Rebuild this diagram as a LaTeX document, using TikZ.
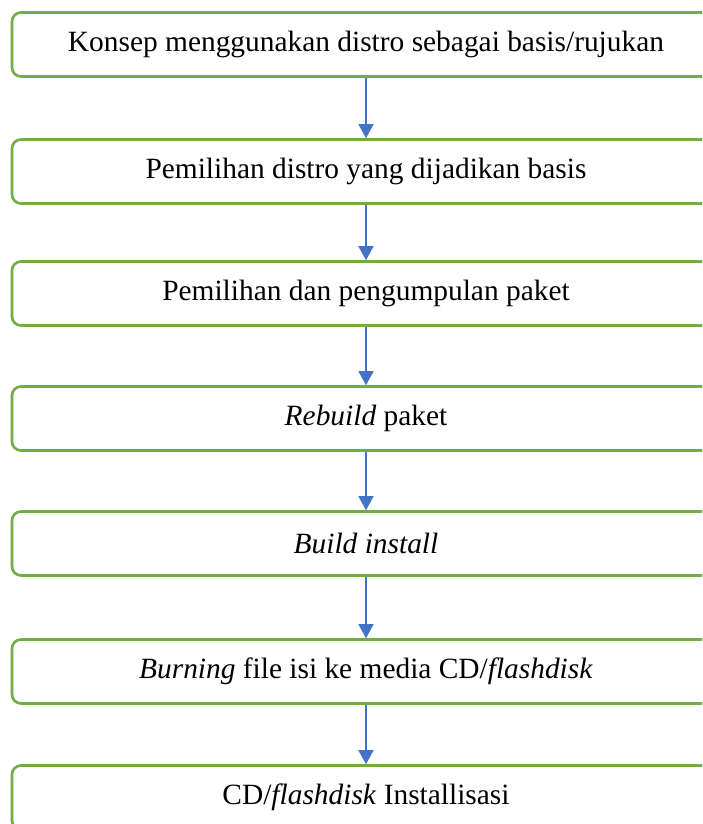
\documentclass[tikz,border=0pt]{standalone}
\usepackage{fontspec}
\setmainfont{Liberation Serif}
\usetikzlibrary{arrows.meta}
\definecolor{boxgreen}{RGB}{112,173,71}
\definecolor{arrowblue}{RGB}{68,114,196}
\tikzset{
  stepbox/.style={draw=boxgreen,line width=2.6pt,rounded corners=9pt,fill=white,
    minimum width=708pt,minimum height=64pt,inner sep=0pt,
    font=\fontsize{29.4}{34}\selectfont},
  flowarrow/.style={draw=arrowblue,line width=1.4pt,-{Triangle[width=15pt,length=14pt]}}
}
\begin{document}
\begin{tikzpicture}[x=1pt,y=1pt]
\useasboundingbox (0,0) rectangle (702,-824);
\clip (0,0) rectangle (702,-824);
\node[stepbox] (konsep) at (366,-44.5) {Konsep menggunakan distro sebagai basis/rujukan};
\node[stepbox] (pilihdistro) at (366,-171.5) {Pemilihan distro yang dijadikan basis};
\node[stepbox] (paket) at (366,-293.5) {Pemilihan dan pengumpulan paket};
\node[stepbox] (rebuild) at (366,-418.5) {\textit{Rebuild} paket};
\node[stepbox] (build) at (366,-543.5) {\textit{Build install}};
\node[stepbox] (burning) at (366,-671.5) {\textit{Burning} file isi ke media CD/\textit{flashdisk}};
\node[stepbox] (install) at (366,-797.5) {CD/\textit{flashdisk} Installisasi};
\draw[flowarrow] (konsep) -- (pilihdistro);
\draw[flowarrow] (pilihdistro) -- (paket);
\draw[flowarrow] (paket) -- (rebuild);
\draw[flowarrow] (rebuild) -- (build);
\draw[flowarrow] (build) -- (burning);
\draw[flowarrow] (burning) -- (install);
\end{tikzpicture}
\end{document}
